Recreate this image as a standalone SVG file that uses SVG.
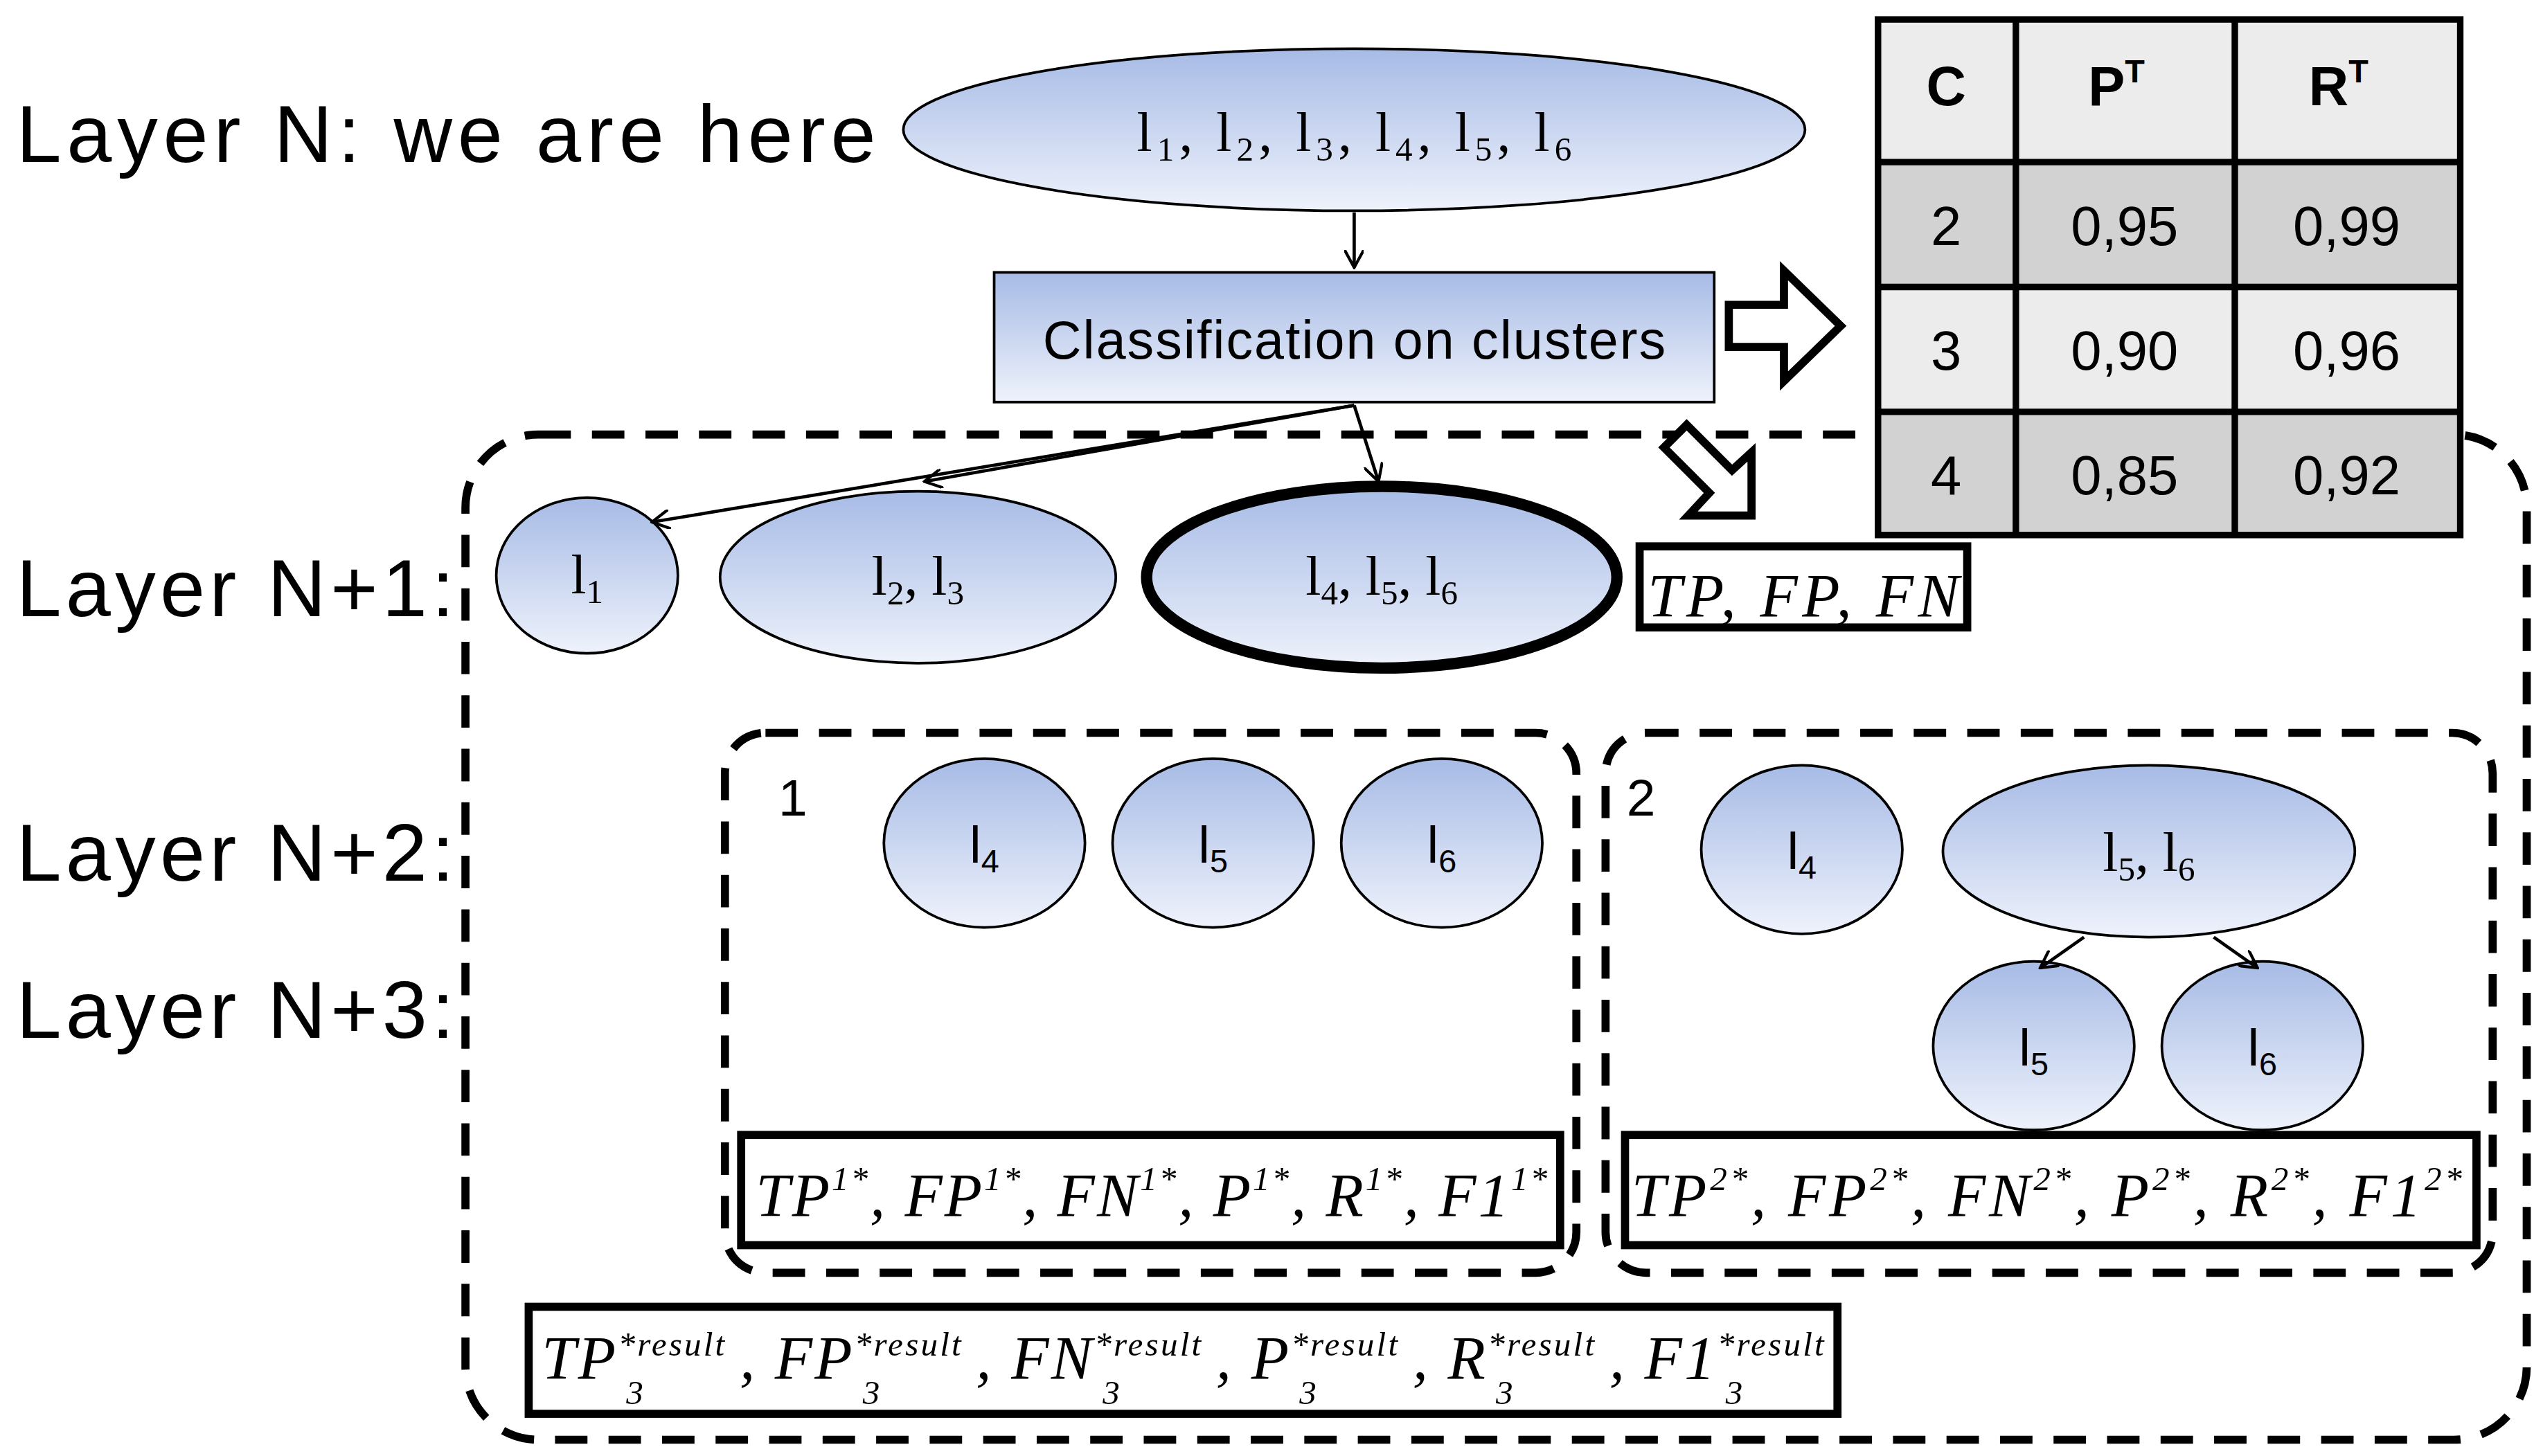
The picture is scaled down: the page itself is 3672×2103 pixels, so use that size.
<svg xmlns="http://www.w3.org/2000/svg" width="3672" height="2103" viewBox="0 0 3672 2103">
<style>
.lay{font-family:"Liberation Sans",Arial,sans-serif;font-size:50px;fill:#000}
.ser{font-family:"Liberation Serif","Times New Roman",serif;font-size:34px;fill:#000}
.it{font-family:"Liberation Serif","Times New Roman",serif;font-style:italic;font-size:38px;fill:#000}
.sup{font-size:21px}
.sans{font-family:"Liberation Sans",Arial,sans-serif;fill:#000}
.node{fill:url(#g);stroke:#000;stroke-width:1.6}
.thick{stroke-width:7}
.dash{fill:none;stroke:#000;stroke-width:5;stroke-dasharray:20 13}
.box{fill:#fff;stroke:#000;stroke-width:5}
.con{stroke:#000;stroke-width:2;fill:none;marker-end:url(#a)}
.cell{stroke:#000;stroke-width:4}
</style>
<defs>
<linearGradient id="g" x1="0" y1="0" x2="0" y2="1"><stop offset="0" stop-color="#a7bbe6"/><stop offset="1" stop-color="#eef2fb"/></linearGradient>
<marker id="a" viewBox="0 0 12 12" refX="11" refY="6" markerWidth="12" markerHeight="12" markerUnits="userSpaceOnUse" orient="auto"><path d="M0,0 L11,6 L0,12" fill="none" stroke="#000" stroke-width="1.8"/></marker>
</defs>
<rect width="3672" height="2103" fill="#fff"/>
<g transform="scale(2.3418)">
<g id="labels">
<text class="lay" x="10" y="100" textLength="530">Layer N: we are here</text>
<text class="lay" x="10" y="380" textLength="270">Layer N+1:</text>
<text class="lay" x="10" y="543" textLength="270">Layer N+2:</text>
<text class="lay" x="10" y="640" textLength="270">Layer N+3:</text>
</g>
<g id="outer"><rect class="dash" x="287" y="268" width="1271" height="620" rx="45"/></g>
<g id="box1"><rect class="dash" x="447" y="452" width="525" height="333" rx="25"/><text class="sans" x="480" y="503" font-size="32">1</text></g>
<g id="box2"><rect class="dash" x="990" y="452" width="547" height="333" rx="25"/><text class="sans" x="1003" y="503" font-size="32">2</text></g>
<g id="top"><ellipse class="node" cx="835" cy="80" rx="278" ry="50"/>
<text class="ser" x="835" y="93" text-anchor="middle" font-size="36" textLength="268">l<tspan class="sup" dy="6">1</tspan><tspan dy="-6">, l</tspan><tspan class="sup" dy="6">2</tspan><tspan dy="-6">, l</tspan><tspan class="sup" dy="6">3</tspan><tspan dy="-6">, l</tspan><tspan class="sup" dy="6">4</tspan><tspan dy="-6">, l</tspan><tspan class="sup" dy="6">5</tspan><tspan dy="-6">, l</tspan><tspan class="sup" dy="6">6</tspan></text></g>
<g id="classif"><rect class="node" x="613" y="168" width="444" height="80"/>
<text class="sans" x="835" y="221" font-size="33" text-anchor="middle" textLength="384">Classification on clusters</text></g>
<g id="n1"><ellipse class="node" cx="362" cy="355" rx="56" ry="48"/><text class="ser" x="362" y="366" text-anchor="middle">l<tspan class="sup" dy="6">1</tspan></text></g>
<g id="n23"><ellipse class="node" cx="566" cy="356" rx="122" ry="53"/><text class="ser" x="566" y="367" text-anchor="middle">l<tspan class="sup" dy="6">2</tspan><tspan dy="-6">, l</tspan><tspan class="sup" dy="6">3</tspan></text></g>
<g id="n456"><ellipse class="node thick" cx="852" cy="356" rx="145" ry="56"/><text class="ser" x="852" y="367" text-anchor="middle">l<tspan class="sup" dy="6">4</tspan><tspan dy="-6">, l</tspan><tspan class="sup" dy="6">5</tspan><tspan dy="-6">, l</tspan><tspan class="sup" dy="6">6</tspan></text></g>
<g id="tpfpfn"><rect class="box" x="1011" y="337" width="202" height="50"/><text class="it" x="1016" y="380" textLength="192">TP, FP, FN</text></g>
<g id="c1l4"><ellipse class="node" cx="607" cy="520" rx="62" ry="52"/><text class="sans" x="607" y="532" font-size="32" text-anchor="middle">l<tspan font-size="20" dy="6">4</tspan></text></g>
<g id="c1l5"><ellipse class="node" cx="748" cy="520" rx="62" ry="52"/><text class="sans" x="748" y="532" font-size="32" text-anchor="middle">l<tspan font-size="20" dy="6">5</tspan></text></g>
<g id="c1l6"><ellipse class="node" cx="889" cy="520" rx="62" ry="52"/><text class="sans" x="889" y="532" font-size="32" text-anchor="middle">l<tspan font-size="20" dy="6">6</tspan></text></g>
<g id="c2l4"><ellipse class="node" cx="1111" cy="524" rx="62" ry="52"/><text class="sans" x="1111" y="536" font-size="32" text-anchor="middle">l<tspan font-size="20" dy="6">4</tspan></text></g>
<g id="c2l56"><ellipse class="node" cx="1325" cy="525" rx="127" ry="53"/><text class="ser" x="1325" y="537" text-anchor="middle">l<tspan class="sup" dy="6">5</tspan><tspan dy="-6">, l</tspan><tspan class="sup" dy="6">6</tspan></text></g>
<g id="c2l5"><ellipse class="node" cx="1254" cy="645" rx="62" ry="52"/><text class="sans" x="1254" y="657" font-size="32" text-anchor="middle">l<tspan font-size="20" dy="6">5</tspan></text></g>
<g id="c2l6"><ellipse class="node" cx="1395" cy="645" rx="62" ry="52"/><text class="sans" x="1395" y="657" font-size="32" text-anchor="middle">l<tspan font-size="20" dy="6">6</tspan></text></g>
<g id="m1"><rect class="box" x="457" y="700" width="505" height="68"/>
<text class="it" x="466" y="750" textLength="488">TP<tspan class="sup" dy="-16">1*</tspan><tspan dy="16">, FP</tspan><tspan class="sup" dy="-16">1*</tspan><tspan dy="16">, FN</tspan><tspan class="sup" dy="-16">1*</tspan><tspan dy="16">, P</tspan><tspan class="sup" dy="-16">1*</tspan><tspan dy="16">, R</tspan><tspan class="sup" dy="-16">1*</tspan><tspan dy="16">, F1</tspan><tspan class="sup" dy="-16">1*</tspan></text></g>
<g id="m2"><rect class="box" x="1002" y="700" width="525" height="68"/>
<text class="it" x="1006" y="750" textLength="512">TP<tspan class="sup" dy="-16">2*</tspan><tspan dy="16">, FP</tspan><tspan class="sup" dy="-16">2*</tspan><tspan dy="16">, FN</tspan><tspan class="sup" dy="-16">2*</tspan><tspan dy="16">, P</tspan><tspan class="sup" dy="-16">2*</tspan><tspan dy="16">, R</tspan><tspan class="sup" dy="-16">2*</tspan><tspan dy="16">, F1</tspan><tspan class="sup" dy="-16">2*</tspan></text></g>
<g id="m3"><rect class="box" x="326" y="806" width="807" height="66"/>
<text class="it" x="334" y="850" textLength="792">TP<tspan class="sup" dy="-14">*result</tspan><tspan class="sup" dx="-62" dy="30">3</tspan><tspan dx="58" dy="-16">, FP</tspan><tspan class="sup" dy="-14">*result</tspan><tspan class="sup" dx="-62" dy="30">3</tspan><tspan dx="58" dy="-16">, FN</tspan><tspan class="sup" dy="-14">*result</tspan><tspan class="sup" dx="-62" dy="30">3</tspan><tspan dx="58" dy="-16">, P</tspan><tspan class="sup" dy="-14">*result</tspan><tspan class="sup" dx="-62" dy="30">3</tspan><tspan dx="58" dy="-16">, R</tspan><tspan class="sup" dy="-14">*result</tspan><tspan class="sup" dx="-62" dy="30">3</tspan><tspan dx="58" dy="-16">, F1</tspan><tspan class="sup" dy="-14">*result</tspan><tspan class="sup" dx="-62" dy="30">3</tspan></text></g>
<g id="table">
<rect x="1158" y="12" width="359" height="88" fill="#ececec"/>
<rect x="1158" y="100" width="359" height="77" fill="#d2d2d2"/>
<rect x="1158" y="177" width="359" height="77" fill="#ececec"/>
<rect x="1158" y="254" width="359" height="76" fill="#d2d2d2"/>
<rect class="cell" x="1158" y="12" width="359" height="318" fill="none"/>
<path class="cell" d="M1243,12V330M1378,12V330M1158,100H1517M1158,177H1517M1158,254H1517"/>
<g class="sans" font-size="34" text-anchor="middle">
<text x="1200" y="65" font-weight="bold">C</text>
<text x="1305" y="65" font-weight="bold">P<tspan font-size="20" dy="-14">T</tspan></text>
<text x="1442" y="65" font-weight="bold">R<tspan font-size="20" dy="-14">T</tspan></text>
<text x="1200" y="151">2</text><text x="1310" y="151">0,95</text><text x="1447" y="151">0,99</text>
<text x="1200" y="228">3</text><text x="1310" y="228">0,90</text><text x="1447" y="228">0,96</text>
<text x="1200" y="305">4</text><text x="1310" y="305">0,85</text><text x="1447" y="305">0,92</text>
</g></g>
<g id="connectors">
<line class="con" x1="835" y1="131" x2="835" y2="165"/>
<line class="con" x1="835" y1="250" x2="402" y2="322"/>
<line class="con" x1="835" y1="250" x2="570" y2="297"/>
<line class="con" x1="835" y1="250" x2="850" y2="297"/>
<line class="con" x1="1285" y1="578" x2="1258" y2="597"/>
<line class="con" x1="1365" y1="578" x2="1392" y2="597"/>
<path d="M1066,188H1100V167L1135,201L1100,235V214H1066Z" fill="#fff" stroke="#000" stroke-width="5"/>
<path d="M1040,262L1026,276L1054,304L1041,318H1080V279L1068,290Z" fill="#fff" stroke="#000" stroke-width="5"/>
</g>
</g>
</svg>
